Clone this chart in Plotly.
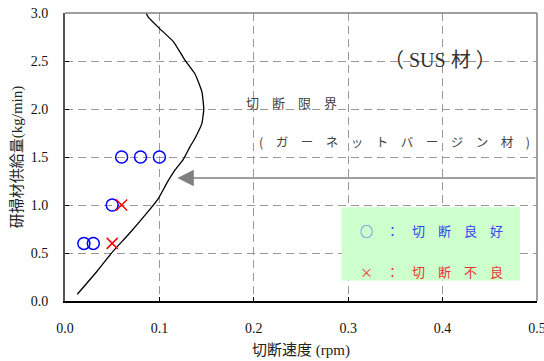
import plotly.graph_objects as go

# Cutting-limit curve (garnet virgin abrasive)
limit_speed = [0.086, 0.088, 0.100, 0.115, 0.127, 0.138, 0.145, 0.147, 0.145, 0.138,
               0.132, 0.125, 0.117, 0.108, 0.099, 0.087, 0.067, 0.051, 0.034, 0.013]
limit_feed = [3.00, 2.96, 2.84, 2.70, 2.51, 2.36, 2.18, 2.00, 1.85, 1.70,
              1.60, 1.47, 1.37, 1.23, 1.07, 0.92, 0.69, 0.52, 0.31, 0.07]

# Test results
good_speed = [0.06, 0.08, 0.10, 0.05, 0.02, 0.03]
good_feed = [1.5, 1.5, 1.5, 1.0, 0.6, 0.6]
bad_speed = [0.06, 0.05]
bad_feed = [1.0, 0.6]

x_ticks = [0.0, 0.1, 0.2, 0.3, 0.4, 0.5]
y_ticks = [0.0, 0.5, 1.0, 1.5, 2.0, 2.5, 3.0]

SERIF = "'Times New Roman', 'Liberation Serif', 'DejaVu Serif', serif"
CJK = "'Noto Sans CJK JP', sans-serif"
TITLE_FONT = "'Times New Roman', 'Liberation Serif', " + CJK
SP = "\u3000"

fig = go.Figure()

fig.add_trace(go.Scatter(
    x=limit_speed, y=limit_feed, mode="lines",
    line=dict(color="black", width=1.3, shape="spline", smoothing=0.4),
    showlegend=False, hoverinfo="skip"))

fig.add_trace(go.Scatter(
    x=good_speed, y=good_feed, mode="markers",
    marker=dict(symbol="circle-open", size=12, color="#0000ff", line=dict(width=1.5)),
    showlegend=False))

fig.add_trace(go.Scatter(
    x=bad_speed, y=bad_feed, mode="markers",
    marker=dict(symbol="x-thin-open", size=11, color="#ff0000", line=dict(width=1.5, color="#ff0000")),
    showlegend=False))

# Legend box
fig.add_shape(type="rect", xref="x", yref="y", x0=0.293, x1=0.482, y0=0.213, y1=0.976,
              fillcolor="#ccffcc", line=dict(width=0), layer="above")

# Plot frame (top and right edges)
fig.add_shape(type="line", xref="paper", yref="paper", x0=0, x1=1, y0=1, y1=1,
              line=dict(color="#808080", width=1.5))
fig.add_shape(type="line", xref="paper", yref="paper", x0=1, x1=1, y0=0, y1=1,
              line=dict(color="#808080", width=1.5))

annotations = [
    dict(x=0.397, y=2.51, text="（ SUS 材 ）", font=dict(family=TITLE_FONT, size=20, color="#333333")),
    dict(x=0.240, y=2.07, text=SP.join("切断限界"), font=dict(family=CJK, size=13, color="#444444")),
    dict(x=0.349, y=1.66, text="(" + SP + SP.join("ガーネットバージン材") + SP + ")",
         font=dict(family=CJK, size=12.5, color="#444444")),
    dict(x=0.388, y=0.734, text=SP.join("○：切断良好"), font=dict(family=CJK, size=13, color="#3344ee")),
    dict(x=0.388, y=0.307, text=SP.join("×：切断不良"), font=dict(family=CJK, size=13, color="#ee3333")),
]
for a in annotations:
    fig.add_annotation(xref="x", yref="y", showarrow=False, **a)

# Arrow pointing to the limit curve
fig.add_annotation(x=0.119, y=1.28, ax=0.5, ay=1.28, xref="x", yref="y", axref="x", ayref="y",
                   showarrow=True, arrowhead=2, arrowsize=2.2, arrowwidth=1.5,
                   arrowcolor="#808080", text="")

fig.update_xaxes(
    range=[0, 0.5], tickvals=x_ticks, tickformat=".1f",
    showgrid=True, gridcolor="#999999", griddash="8px,5px", gridwidth=1,
    showline=True, linecolor="black", linewidth=2,
    ticks="inside", ticklen=4, tickcolor="black", ticklabelstandoff=13,
    ticklabeloverflow="allow", automargin=False,
    tickfont=dict(family=SERIF, size=14, color="#111111"),
    title=dict(text="切断速度 (rpm)", font=dict(family=TITLE_FONT, size=15, color="#222222"), standoff=10),
    zeroline=False)
fig.update_yaxes(
    range=[0, 3], tickvals=y_ticks, tickformat=".1f",
    showgrid=True, gridcolor="#999999", griddash="8px,5px", gridwidth=1,
    showline=True, linecolor="#555555", linewidth=2,
    ticks="inside", ticklen=4, tickcolor="black", ticklabelstandoff=12,
    automargin=False,
    tickfont=dict(family=SERIF, size=14, color="#111111"),
    title=dict(text="研掃材供給量(kg/min)", font=dict(family=TITLE_FONT, size=15, color="#222222"), standoff=4),
    zeroline=False)

fig.update_layout(
    width=544, height=361,
    margin=dict(l=65, r=7, t=13, b=60),
    plot_bgcolor="white", paper_bgcolor="white",
    showlegend=False)

fig.write_html("out.html")
